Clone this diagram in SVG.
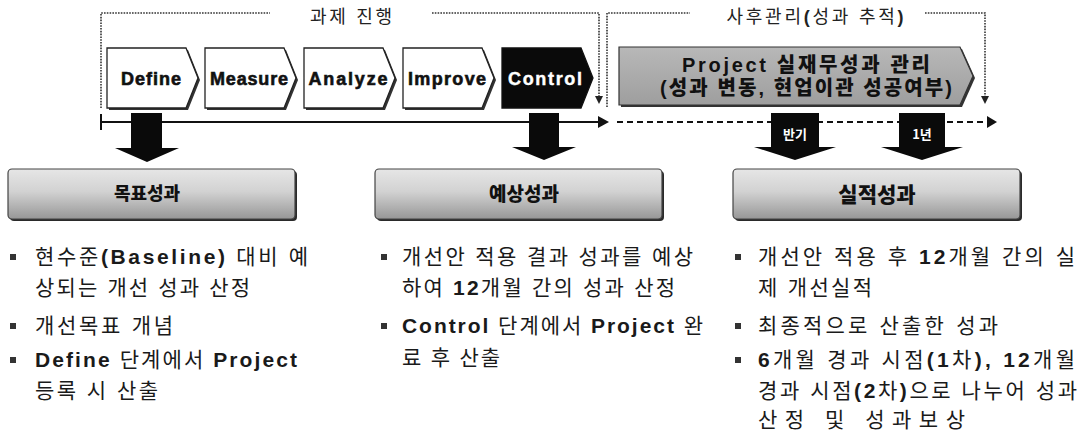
<svg xmlns="http://www.w3.org/2000/svg" width="1085" height="431" viewBox="0 0 1085 431">
<defs>
  <linearGradient id="boxg" x1="0" y1="0" x2="0" y2="1">
    <stop offset="0" stop-color="#e6e6e6"/>
    <stop offset="0.45" stop-color="#d2d2d2"/>
    <stop offset="1" stop-color="#979797"/>
  </linearGradient>
  <linearGradient id="grayg" x1="0" y1="0" x2="0" y2="1">
    <stop offset="0" stop-color="#b8b8b8"/>
    <stop offset="1" stop-color="#9e9e9e"/>
  </linearGradient>
</defs>
<style>
  .chev{fill:#fff;stroke:#222;stroke-width:1.3}
  .shd{fill:#333}
  .clbl{font-family:"Liberation Sans",Arial,sans-serif;font-weight:bold;font-size:18px;fill:#111;stroke:#111;stroke-width:0.6;text-anchor:middle}
  .dot{fill:none;stroke:#333;stroke-width:1.6;stroke-dasharray:1.6 1.2}
  .ttl{font-family:"Liberation Sans","Noto Sans CJK KR",sans-serif;font-size:18px;fill:#222;text-anchor:middle}
  .box{fill:url(#boxg);stroke:#444;stroke-width:1.2}
  .btxt{font-family:"Noto Sans CJK KR",sans-serif;font-weight:900;fill:#111;text-anchor:middle}
  .gtxt{font-family:"Liberation Sans","Noto Sans CJK KR",sans-serif;font-weight:900;font-size:20px;fill:#111;text-anchor:middle}
  .body{font-family:"Liberation Sans","Noto Sans CJK KR",sans-serif;font-size:21px;fill:#1a1a1a}
  .b{font-weight:bold}
  .bul{fill:#333}
  .blk{fill:#0a0a0a}
  .wlbl{font-family:"Noto Sans CJK KR",sans-serif;font-weight:bold;font-size:13px;fill:#fff;text-anchor:middle}
</style>

<g id="bracket-progress">
  <path class="dot" d="M101,108 V13 H270 M432,13 H599 V97"/>
  <polygon points="595,96 603,96 599,104" fill="#222"/>
  <text class="ttl" x="351" y="23" textLength="82">과제 진행</text>
</g>
<g id="bracket-after">
  <path class="dot" d="M607,107 V13 H690 M925,13 H985 V96"/>
  <polygon points="981,96 989,96 985,104" fill="#222"/>
  <text class="ttl" x="815" y="23" textLength="177">사후관리<tspan class="b">(</tspan>성과 추적<tspan class="b">)</tspan></text>
</g>

<g id="define">
  <polygon class="shd" points="109,50 188,50 200,80 188,110 109,110"/>
  <polygon class="chev" points="107,48 186,48 198,78 186,108 107,108"/>
  <text class="clbl" x="151" y="85" textLength="60">Define</text>
</g>
<g id="measure">
  <polygon class="shd" points="207,50 286,50 298,80 286,110 207,110"/>
  <polygon class="chev" points="205,48 284,48 296,78 284,108 205,108"/>
  <text class="clbl" x="249" y="85" textLength="78">Measure</text>
</g>
<g id="analyze">
  <polygon class="shd" points="306,50 385,50 397,80 385,110 306,110"/>
  <polygon class="chev" points="304,48 383,48 395,78 383,108 304,108"/>
  <text class="clbl" x="348" y="85" textLength="79">Analyze</text>
</g>
<g id="improve">
  <polygon class="shd" points="405,50 484,50 496,80 484,110 405,110"/>
  <polygon class="chev" points="403,48 482,48 494,78 482,108 403,108"/>
  <text class="clbl" x="447" y="85" textLength="78">Improve</text>
</g>
<g id="control">
  <polygon points="502,48 581,48 593,78 581,108 502,108" fill="#0a0a0a" stroke="#111" stroke-width="1.3"/>
  <text class="clbl" x="545" y="85" textLength="74" style="fill:#fff;stroke:#fff;stroke-width:0.4">Control</text>
</g>

<g id="project-mgmt">
  <polygon class="shd" points="621,49 962,49 975,78 962,107 621,107"/>
  <polygon points="619,47 960,47 973,76 960,105 619,105" fill="url(#grayg)" stroke="#333" stroke-width="1.2"/>
  <text class="gtxt" x="806" y="72" textLength="248">Project 실재무성과 관리</text>
  <text class="gtxt" x="806" y="95" textLength="292">(성과 변동, 현업이관 성공여부)</text>
</g>

<g id="connectors">
  <line x1="101" y1="114" x2="101" y2="130" stroke="#111" stroke-width="2"/>
  <line x1="101" y1="122" x2="600" y2="122" stroke="#111" stroke-width="2"/>
  <polygon points="598,116 609,122 598,128" fill="#111"/>
  <line x1="617" y1="122" x2="989" y2="122" stroke="#111" stroke-width="2" stroke-dasharray="6 4"/>
  <polygon points="987,116 997,122 987,128" fill="#111"/>
  <polygon class="blk" points="131,113 162,113 162,148 179,148 147,162 115,148 131,148"/>
  <polygon class="blk" points="529,113 559,113 559,147 576,147 544,160 512,147 529,147"/>
  <polygon class="blk" points="771,113 819,113 819,147 836,147 795,160 754,147 771,147"/>
  <text class="wlbl" x="795" y="139">반기</text>
  <polygon class="blk" points="899,113 945,113 945,147 963,147 922,160 881,147 899,147"/>
  <text class="wlbl" x="922" y="139">1년</text>
</g>

<g id="goal">
  <rect x="10" y="171" width="287" height="50" rx="4" fill="#2a2a2a"/>
  <rect class="box" x="8" y="169" width="287" height="50" rx="4"/>
  <text class="btxt" x="147" y="200" font-size="18">목표성과</text>
  <rect class="bul" x="10" y="254" width="6" height="6"/>
  <text class="body" x="35" y="264" textLength="273">현수준<tspan class="b">(Baseline)</tspan> 대비  예</text>
  <text class="body" x="35" y="295" textLength="215">상되는 개선 성과 산정</text>
  <rect class="bul" x="10" y="323" width="6" height="6"/>
  <text class="body" x="35" y="333" textLength="138">개선목표 개념</text>
  <rect class="bul" x="10" y="357" width="6" height="6"/>
  <text class="body" x="35" y="367" textLength="262"><tspan class="b">Define</tspan> 단계에서 <tspan class="b">Project</tspan></text>
  <text class="body" x="35" y="398" textLength="123">등록 시 산출</text>
</g>

<g id="expected">
  <rect x="377" y="171" width="287" height="50" rx="4" fill="#2a2a2a"/>
  <rect class="box" x="375" y="169" width="287" height="50" rx="4"/>
  <text class="btxt" x="524" y="201" font-size="19">예상성과</text>
  <rect class="bul" x="381" y="254" width="6" height="6"/>
  <text class="body" x="402" y="264" textLength="291">개선안 적용 결과 성과를 예상</text>
  <text class="body" x="402" y="295" textLength="273">하여 <tspan class="b">12</tspan>개월 간의 성과 산정</text>
  <rect class="bul" x="381" y="323" width="6" height="6"/>
  <text class="body" x="402" y="333" textLength="301"><tspan class="b">Control</tspan> 단계에서 <tspan class="b">Project</tspan> 완</text>
  <text class="body" x="402" y="365" textLength="98">료 후 산출</text>
</g>

<g id="actual">
  <rect x="735" y="171" width="287" height="50" rx="4" fill="#2a2a2a"/>
  <rect class="box" x="733" y="169" width="287" height="50" rx="4"/>
  <text class="btxt" x="877" y="202" font-size="21">실적성과</text>
  <rect class="bul" x="735" y="254" width="6" height="6"/>
  <text class="body" x="758" y="264" textLength="317">개선안 적용 후 <tspan class="b">12</tspan>개월 간의 실</text>
  <text class="body" x="758" y="295" textLength="114">제 개선실적</text>
  <rect class="bul" x="735" y="323" width="6" height="6"/>
  <text class="body" x="758" y="333" textLength="240">최종적으로 산출한 성과</text>
  <rect class="bul" x="735" y="357" width="6" height="6"/>
  <text class="body" x="758" y="367" textLength="317"><tspan class="b">6</tspan>개월 경과 시점<tspan class="b">(1</tspan>차<tspan class="b">), 12</tspan>개월</text>
  <text class="body" x="758" y="398" textLength="319">경과 시점<tspan class="b">(2</tspan>차<tspan class="b">)</tspan>으로 나누어 성과</text>
  <text class="body" x="758" y="427" textLength="207">산정 및 성과보상</text>
</g>
</svg>
